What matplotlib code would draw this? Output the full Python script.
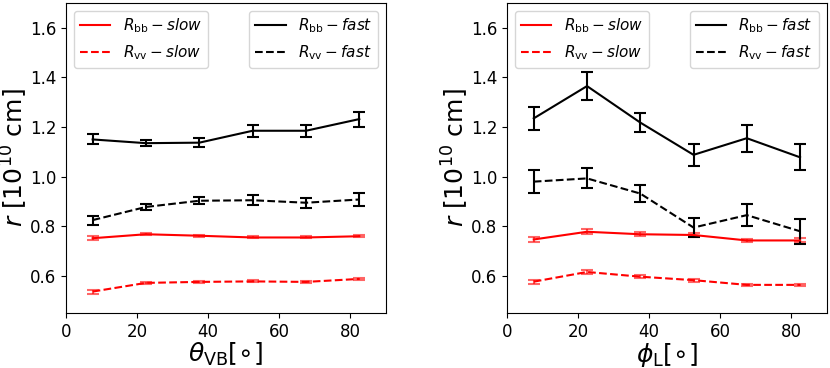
import matplotlib
matplotlib.use("Agg")
import matplotlib.pyplot as plt
from matplotlib.lines import Line2D

x = [7.5, 22.5, 37.5, 52.5, 67.5, 82.5]

# left panel (theta_VB)
L_bb_fast = [1.150, 1.135, 1.137, 1.185, 1.185, 1.232]
L_bb_fast_err = [0.020, 0.012, 0.018, 0.025, 0.025, 0.030]
L_vv_fast = [0.825, 0.878, 0.903, 0.905, 0.895, 0.908]
L_vv_fast_err = [0.018, 0.012, 0.015, 0.020, 0.020, 0.025]
L_bb_slow = [0.752, 0.768, 0.762, 0.755, 0.755, 0.760]
L_bb_slow_err = [0.008, 0.005, 0.004, 0.004, 0.004, 0.005]
L_vv_slow = [0.537, 0.572, 0.576, 0.578, 0.576, 0.588]
L_vv_slow_err = [0.008, 0.005, 0.004, 0.004, 0.004, 0.004]

# right panel (phi_L)
R_bb_fast = [1.235, 1.365, 1.218, 1.088, 1.155, 1.078]
R_bb_fast_err = [0.045, 0.055, 0.040, 0.045, 0.055, 0.052]
R_vv_fast = [0.980, 0.993, 0.932, 0.795, 0.845, 0.780]
R_vv_fast_err = [0.045, 0.040, 0.035, 0.040, 0.045, 0.050]
R_bb_slow = [0.747, 0.778, 0.768, 0.765, 0.743, 0.743]
R_bb_slow_err = [0.010, 0.010, 0.008, 0.010, 0.006, 0.008]
R_vv_slow = [0.577, 0.616, 0.597, 0.583, 0.564, 0.564]
R_vv_slow_err = [0.008, 0.008, 0.006, 0.006, 0.004, 0.004]

xlabels = [r'$\theta_{\rm VB}[\circ]$', r'$\phi_{\rm L}[\circ]$']

fig = plt.figure(figsize=(8.3, 3.68), dpi=100)
ax1 = fig.add_axes([0.0795, 0.149, 0.3855, 0.843])
ax2 = fig.add_axes([0.611, 0.149, 0.385, 0.843])

panels = [
    (ax1, L_bb_slow, L_bb_slow_err, L_vv_slow, L_vv_slow_err, L_bb_fast, L_bb_fast_err, L_vv_fast, L_vv_fast_err),
    (ax2, R_bb_slow, R_bb_slow_err, R_vv_slow, R_vv_slow_err, R_bb_fast, R_bb_fast_err, R_vv_fast, R_vv_fast_err),
]

for i, (ax, bbs, bbse, vvs, vvse, bbf, bbfe, vvf, vvfe) in enumerate(panels):
    kw = dict(capsize=4, elinewidth=1.5, capthick=1.5, lw=1.5)
    ax.errorbar(x, bbs, yerr=bbse, color='red', ls='-', ecolor=(1, 0, 0, 0.6), **kw)
    ax.errorbar(x, vvs, yerr=vvse, color='red', ls='--', ecolor=(1, 0, 0, 0.6), **kw)
    ax.errorbar(x, bbf, yerr=bbfe, color='black', ls='-', **kw)
    ax.errorbar(x, vvf, yerr=vvfe, color='black', ls='--', **kw)
    ax.set_xlim(0, 90)
    ax.set_ylim(0.45, 1.7)
    ax.set_xticks([0, 20, 40, 60, 80])
    ax.set_yticks([0.6, 0.8, 1.0, 1.2, 1.4, 1.6])
    ax.tick_params(labelsize=12)
    ax.set_xlabel(xlabels[i], fontsize=18, labelpad=0)
    ax.set_ylabel(r'$r$ [$10^{10}$ cm]', fontsize=18, labelpad=0)
    hs = [Line2D([], [], color='red', ls='-', lw=1.5), Line2D([], [], color='red', ls='--', lw=1.5)]
    hf = [Line2D([], [], color='black', ls='-', lw=1.5), Line2D([], [], color='black', ls='--', lw=1.5)]
    leg1 = ax.legend(hs, [r'$R_{\rm bb}-slow$', r'$R_{\rm vv}-slow$'], loc='upper left', fontsize=11)
    ax.add_artist(leg1)
    ax.legend(hf, [r'$R_{\rm bb}-fast$', r'$R_{\rm vv}-fast$'], loc='upper right', fontsize=11)

fig.savefig('out.png', dpi=100)
